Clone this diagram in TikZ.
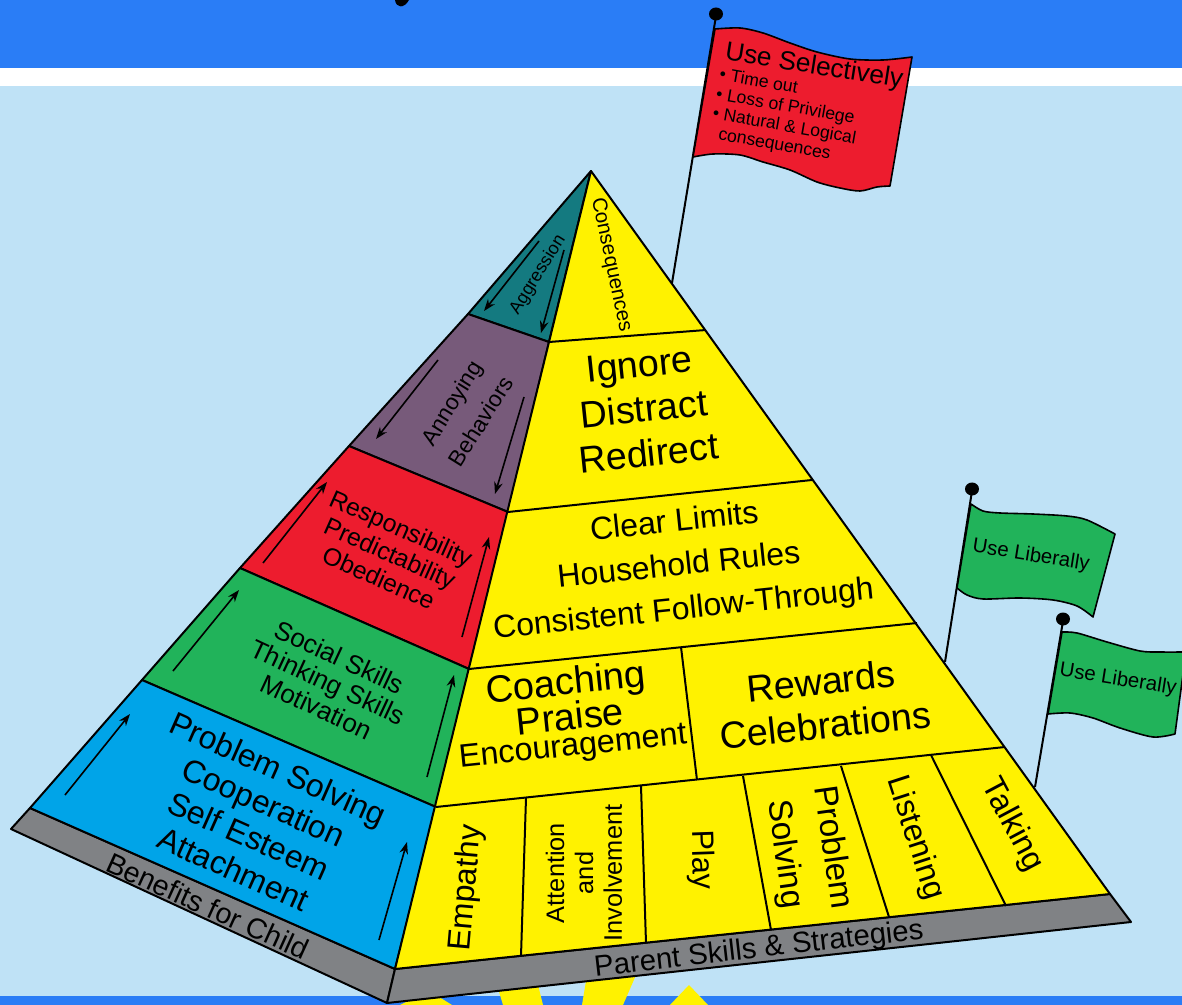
\documentclass[tikz,border=0pt]{standalone}
\usepackage{fontspec}
\setmainfont{Liberation Sans}
\usetikzlibrary{arrows.meta}
\definecolor{topblue}{HTML}{2A7DF6}
\definecolor{skyblue}{HTML}{BFE2F6}
\definecolor{pyryellow}{HTML}{FFF200}
\definecolor{pyrblue}{HTML}{00A4E8}
\definecolor{pyrgreen}{HTML}{21B35A}
\definecolor{pyrred}{HTML}{ED1C2E}
\definecolor{pyrpurple}{HTML}{775A7A}
\definecolor{pyrteal}{HTML}{147A80}
\definecolor{slabgray}{HTML}{808285}
\tikzset{
  txt/.style 2 args={align=center,inner sep=0pt,font=\fontsize{#1}{#2}\selectfont},
  face/.style={draw=black,line width=1.5pt,line join=round},
  flag/.style={draw=black,line width=1.2pt,line join=round},
  pole/.style={draw=black,line width=1.5pt},
}

\begin{document}
\begin{tikzpicture}[x=0.75pt,y=-0.75pt]
  \useasboundingbox (0,0) rectangle (1182,1005);

  % backdrop
  \fill[skyblue] (0,86) rectangle (1182,996);
  \fill[white] (0,68) rectangle (1182,86);
  \fill[topblue] (0,0) rectangle (1182,68);
  \fill[topblue] (0,996) rectangle (1182,1005);
  \fill[black] (395,0) .. controls (396,8) and (404,9) .. (409,0) -- cycle;
  \fill[pyryellow] (400,1005) -- (420,995) -- (436,995) -- (452,1005) -- cycle;
  \fill[pyryellow] (503,1005) -- (497,985) -- (538,985) -- (543,1005) -- cycle;
  \fill[pyryellow] (582,1005) -- (587,975) -- (636,975) -- (623,1005) -- cycle;
  \fill[pyryellow] (670,1005) -- (689,985) -- (708,1005) -- cycle;

  \coordinate (apex) at (591,171);
  \coordinate (l1) at (468,314);
  \coordinate (l2) at (349,446);
  \coordinate (l3) at (240,568);
  \coordinate (l4) at (142,680);
  \coordinate (l5) at (30,808);
  \coordinate (c1) at (549,342);
  \coordinate (c2) at (508,512);
  \coordinate (c3) at (469,669);
  \coordinate (c4) at (436,807);
  \coordinate (c5) at (395,969);
  \coordinate (r1) at (706,330);
  \coordinate (r2) at (812,480);
  \coordinate (r3) at (917,623);
  \coordinate (r4) at (1005,747);
  \coordinate (r5) at (1110,894);

  % flag poles go behind the pyramid
  \draw[pole] (672,283) -- (716,16);
  \draw[pole] (945,662) -- (972,491);
  \draw[pole] (1035,787) -- (1063,621);
  \fill (716,14) ellipse [x radius=7,y radius=6.5];
  \fill (972,489) ellipse [x radius=7,y radius=6.5];
  \fill (1063,619) ellipse [x radius=7,y radius=6.5];

  % flags
  \draw[flag,fill=pyrred] plot[smooth] coordinates {(715,29) (740,28) (763,33) (790,43) (817,52) (850,59) (883,60) (912,57)}
    -- (890,186)
    -- plot[smooth] coordinates {(890,186) (877,187) (860,191) (840,188) (817,182) (790,170) (763,162) (740,155) (713,154) (693,157)} -- cycle;
  \draw[flag,fill=pyrgreen] plot[smooth] coordinates {(971,504) (983,511) (1000,513) (1033,514) (1067,516) (1087,520) (1115,534)}
    -- (1093,617)
    -- plot[smooth] coordinates {(1093,617) (1077,606) (1053,600) (1020,598) (983,599) (967,595) (957,588)} -- cycle;
  \draw[flag,fill=pyrgreen] plot[smooth] coordinates {(1062,632) (1077,633) (1107,642) (1140,651) (1160,652) (1186,652)}
    -- (1175,734)
    -- plot[smooth] coordinates {(1175,734) (1153,737) (1120,728) (1093,718) (1070,713) (1048,714)} -- cycle;

  % slab
  \draw[face,fill=slabgray] (11,829) -- (l5) -- (c5) -- (387,1003) -- cycle;
  \draw[face,fill=slabgray] (c5) -- (r5) -- (1131,922) -- (387,1003) -- cycle;

  % left face
  \draw[face,fill=pyrteal] (apex) -- (l1) -- (c1) -- cycle;
  \draw[face,fill=pyrpurple] (l1) -- (l2) -- (c2) -- (c1) -- cycle;
  \draw[face,fill=pyrred] (l2) -- (l3) -- (c3) -- (c2) -- cycle;
  \draw[face,fill=pyrgreen] (l3) -- (l4) -- (c4) -- (c3) -- cycle;
  \draw[face,fill=pyrblue] (l4) -- (l5) -- (c5) -- (c4) -- cycle;

  % right face
  \draw[face,fill=pyryellow] (apex) -- (c5) -- (r5) -- cycle;
  \draw[face] (c1) -- (r1);
  \draw[face] (c2) -- (r2);
  \draw[face] (c3) -- (r3);
  \draw[face] (c4) -- (r4);
  \draw[face] (681,647) -- (697,780);
  \foreach \xa/\ya/\xb/\yb in {526/798/521/956, 641/786/646/943, 743/776/771/930, 841/766/889/917, 931/755/1006/906}
    \draw[face] (\xa,\ya) -- (\xb,\yb);

  % arrows on the left face
  \foreach \xa/\ya/\xb/\yb in {65/795/130/714, 379/940/407/842, 173/671/239/590, 427/777/454/675,
      263/563/327/482, 462/637/489/537, 438/360/376/439, 524/397/495/494, 539/241/484/311, 564/250/541/333}
    \draw[-{Stealth[length=9pt,width=6.5pt]},line width=1.2pt] (\xa,\ya) -- (\xb,\yb);

  % labels
  \node[txt={15.4}{18},rotate=-78] (consequences) at (611,265) {Consequences};
  \node[txt={13.4}{17},rotate=58] (aggression) at (538,275) {Aggression};
  \node[txt={17}{26},rotate=58] (annoying) at (466,412) {Annoying\\Behaviors};
  \node[txt={18.6}{20.5},rotate=-24] (responsibility) at (390,553) {Responsibility\\Predictability\\Obedience};
  \node[txt={19.6}{20.5},rotate=-25] (social) at (328,682) {Social Skills\\Thinking Skills\\Motivation};
  \node[txt={24}{27.5},rotate=-24] (problem) at (256,819) {Problem Solving\\Cooperation\\Self Esteem\\Attachment};
  \node[txt={21.5}{24},rotate=-24.4] (benefits) at (208,906) {Benefits for Child};
  \node[txt={22}{26},rotate=6.5] (parent) at (759,950) {Parent Skills \& Strategies};

  \node[txt={28.2}{33.5},rotate=6] (ignore) at (644,409) {Ignore\\Distract\\Redirect};
  \node[txt={24}{33},rotate=6] (limits) at (679,567) {Clear Limits\\Household Rules\\Consistent Follow-Through};
  \node[txt={28.5}{33},rotate=6] (coaching) at (566,685) {Coaching};
  \node[txt={28.5}{33},rotate=6] (praise) at (570,716) {Praise};
  \node[txt={24.3}{33},rotate=6] (encourage) at (573,748) {Encouragement};
  \node[txt={28.3}{33},rotate=6] (rewards) at (823,703) {Rewards\\Celebrations};

  \node[txt={24}{28},rotate=85] (empathy) at (467,888) {Empathy};
  \node[txt={19}{21.7},rotate=90] (attention) at (584,873) {Attention\\and\\Involvement};
  \node[txt={23}{28},rotate=-88] (play) at (701,860) {Play};
  \node[txt={25}{36},rotate=-82] (psolving) at (808,851) {Problem\\Solving};
  \node[txt={24}{28},rotate=-72] (listening) at (915,838) {Listening};
  \node[txt={24}{28},rotate=-62] (talking) at (1012,825) {Talking};

  \node[txt={19.7}{23},rotate=-9] (selectively) at (814,67) {Use Selectively};
  \node[inner sep=0pt,align=left,font=\fontsize{13.2}{14.8}\selectfont,rotate=-10] (sanctions) at (786,117)
    {• Time out\\• Loss of Privilege\\• Natural \& Logical\\\hspace{7pt}consequences};
  \node[txt={15.3}{18},rotate=-9] (liberally) at (1031,556) {Use Liberally};
  \node[txt={15.3}{18},rotate=-9] (liberallyb) at (1118,680) {Use Liberally};
\end{tikzpicture}
\end{document}
